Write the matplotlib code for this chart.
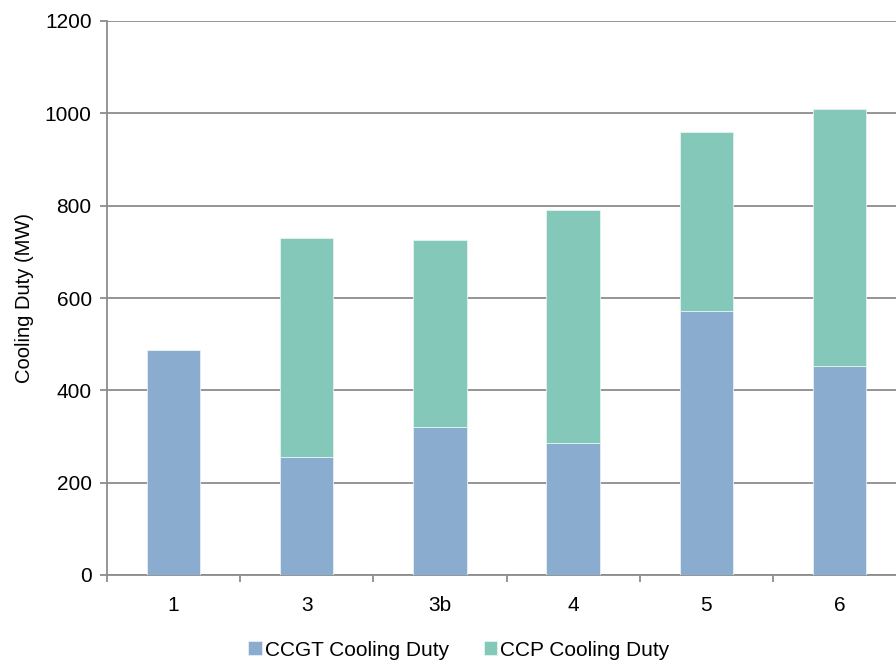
import matplotlib
matplotlib.use("Agg")
import matplotlib.pyplot as plt
import numpy as np

plt.rcParams['font.family'] = ['Liberation Sans', 'DejaVu Sans']

categories = ["1", "3", "3b", "4", "5", "6"]
ccgt = [488, 256, 321, 285, 571, 452]
ccp_total = [488, 730, 726, 790, 959, 1010]
ccp = [t - c for t, c in zip(ccp_total, ccgt)]
yticks = [0, 200, 400, 600, 800, 1000, 1200]

c_ccgt = "#8aacce"
c_ccp = "#83c8b9"
grey = "#8c8c8c"

W, H = 896, 662
fig = plt.figure(figsize=(W / 100, H / 100), dpi=100)
ax = fig.add_axes([107 / W, (H - 575) / H, 799 / W, 554 / H])

x = np.arange(len(categories))
ax.bar(x, ccgt, width=0.4, color=c_ccgt, edgecolor="#e8eef5", linewidth=0.6,
       label="CCGT Cooling Duty", zorder=3)
ax.bar(x, ccp, width=0.4, bottom=ccgt, color=c_ccp, edgecolor="#e4f4f0", linewidth=0.6,
       label="CCP Cooling Duty", zorder=3)

ax.set_xlim(-0.5, len(categories) - 0.5)
ax.set_ylim(0, 1200)
ax.set_yticks(yticks)
ax.set_yticklabels([str(v) for v in yticks])
ax.yaxis.grid(True, color=grey, linewidth=1.3, zorder=0)
ax.set_axisbelow(True)

ax.set_xticks(x)
ax.set_xticklabels(categories)
ax.set_xticks(np.arange(-0.5, len(categories), 1.0), minor=True)
ax.tick_params(axis='x', which='major', length=0, pad=15, labelsize=15)
ax.tick_params(axis='x', which='minor', length=5, width=1.3, color=grey, direction='out')
ax.tick_params(axis='y', length=5, width=1.3, color=grey, direction='out', pad=6, labelsize=15)

for s in ['top', 'right']:
    ax.spines[s].set_visible(False)
for s in ['left', 'bottom']:
    ax.spines[s].set_color(grey)
    ax.spines[s].set_linewidth(1.3)

ax.set_ylabel("Cooling Duty (MW)", fontsize=14.5, labelpad=8)

leg = fig.legend(loc='center', bbox_to_anchor=(459 / W, 1 - 650 / H), ncol=2,
                 frameon=False, fontsize=15, handlelength=0.65, handleheight=0.65,
                 handletextpad=0.15, columnspacing=1.65)

fig.savefig("out.png", dpi=100)
